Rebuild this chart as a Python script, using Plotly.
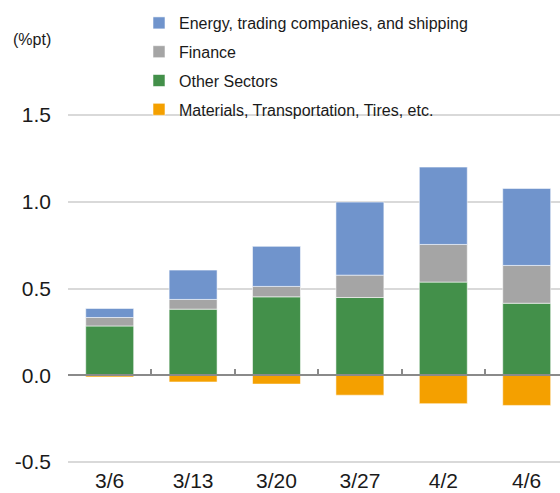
import plotly.graph_objects as go

dates = ["3/6", "3/13", "3/20", "3/27", "4/2", "4/6"]
other_sectors = [0.284, 0.381, 0.452, 0.448, 0.537, 0.415]
finance = [0.049, 0.056, 0.060, 0.129, 0.217, 0.218]
energy = [0.052, 0.169, 0.231, 0.421, 0.446, 0.444]
materials = [-0.010, -0.039, -0.051, -0.115, -0.164, -0.174]

y_ticks = [-0.5, 0.0, 0.5, 1.0, 1.5]
y_tick_text = ["-0.5", "0.0", "0.5", "1.0", "1.5"]

FONT = "Liberation Sans, Arial, sans-serif"
TXT = "#1a1a1a"
edge = dict(color="rgba(255,255,255,0.55)", width=1)

fig = go.Figure()
fig.add_trace(go.Bar(x=dates, y=other_sectors, name="Other Sectors",
                     marker=dict(color="#43904a", line=edge),
                     legendgroup="c", legendrank=3))
fig.add_trace(go.Bar(x=dates, y=finance, name="Finance",
                     marker=dict(color="#a5a5a5", line=edge),
                     legendgroup="b", legendrank=2))
fig.add_trace(go.Bar(x=dates, y=energy, name="Energy, trading companies, and shipping",
                     marker=dict(color="#7094cc", line=edge),
                     legendgroup="a", legendrank=1))
fig.add_trace(go.Bar(x=dates, y=materials, name="Materials, Transportation, Tires, etc.",
                     marker=dict(color="#f4a000", line=edge),
                     legendgroup="d", legendrank=4, xaxis="x2"))

W, H = 560, 493
L, R, T, B = 68, 0, 114, 30
plot_w = W - L - R
plot_h = H - T - B
cat_px = 83.4
x_range = [-0.5, -0.5 + plot_w / cat_px]
y_range = [-0.506, 1.506]
zero_frac = (0 - y_range[0]) / (y_range[1] - y_range[0])

fig.update_layout(
    width=W, height=H,
    margin=dict(l=L, r=R, t=T, b=B, pad=0, autoexpand=False),
    plot_bgcolor="white", paper_bgcolor="white",
    barmode="relative", bargap=0.425,
    font=dict(family=FONT, color=TXT, size=21),
    showlegend=True,
    legend=dict(
        xref="paper", yref="paper",
        x=(139 - L) / plot_w, y=1 + (T - 6) / plot_h,
        xanchor="left", yanchor="top",
        font=dict(family=FONT, size=16, color=TXT),
        traceorder="grouped", tracegroupgap=5,
        bgcolor="rgba(0,0,0,0)", borderwidth=0,
    ),
    xaxis=dict(
        type="category", categoryorder="array", categoryarray=dates,
        range=x_range, showline=False, ticks="", showgrid=False,
        zeroline=False, ticklabelstandoff=3, automargin=False,
        tickfont=dict(family=FONT, size=21, color=TXT),
    ),
    xaxis2=dict(
        type="category", categoryorder="array", categoryarray=dates,
        overlaying="x", anchor="free", position=zero_frac, side="bottom",
        range=x_range, showline=True, linecolor="#8a8a8a", linewidth=2,
        ticks="inside", tickson="boundaries", ticklen=5, tickwidth=2,
        tickcolor="#8a8a8a", showticklabels=False, showgrid=False, zeroline=False,
        automargin=False,
    ),
    yaxis=dict(
        range=y_range, tickvals=y_ticks, ticktext=y_tick_text,
        showgrid=True, gridcolor="#d9d9d9", gridwidth=1.5,
        zeroline=False, showline=False, ticks="", ticklabelstandoff=16,
        automargin=False,
        tickfont=dict(family=FONT, size=21, color=TXT),
    ),
    annotations=[dict(
        text="(%pt)", xref="paper", yref="paper",
        x=(32 - L) / plot_w, y=1 + (T - 39) / plot_h,
        xanchor="center", yanchor="middle", showarrow=False,
        font=dict(family=FONT, size=16, color=TXT),
    )],
)

fig.write_html("out.html")
